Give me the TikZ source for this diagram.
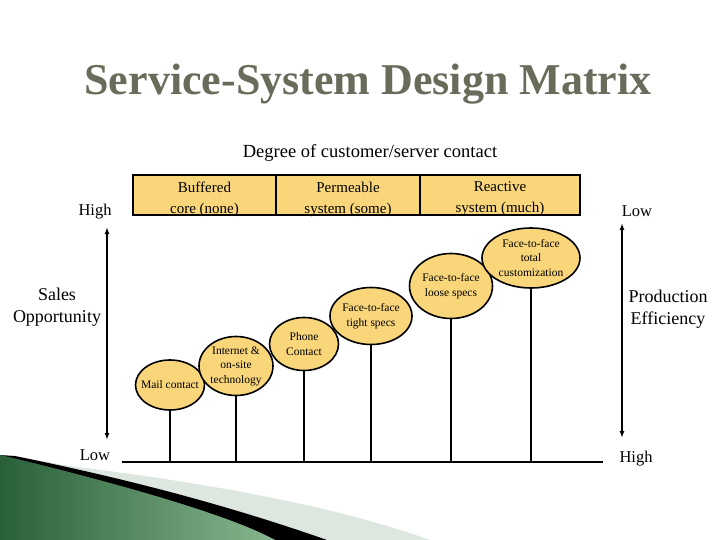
\documentclass[tikz,border=0pt]{standalone}
\usepackage{fontspec}
\setmainfont{Liberation Serif}
\usetikzlibrary{arrows.meta,shapes.geometric}
\definecolor{stagefill}{RGB}{250,214,123}
\definecolor{titlegray}{RGB}{107,107,91}
\definecolor{decodark}{RGB}{40,96,58}
\definecolor{decolight}{RGB}{135,182,142}
\definecolor{decogray}{RGB}{222,230,224}

\tikzset{
  hdrbox/.style={draw,line width=1.8pt,fill=stagefill,minimum height=40pt,inner sep=0pt},
  hdrtext/.style={align=center,inner sep=0pt,font=\fontsize{15}{21}\selectfont},
  stage/.style={ellipse,draw,line width=1.6pt,fill=stagefill,inner sep=0pt},
  stagetext/.style={align=center,inner sep=0pt,font=\fontsize{11.5}{14.5}\selectfont},
  stem/.style={line width=1.6pt},
  axislbl/.style={align=center,inner sep=0pt,font=\fontsize{16.5}{22}\selectfont},
  scalelbl/.style={align=center,inner sep=0pt,font=\fontsize{18}{22}\selectfont},
  dblarrow/.style={line width=1.5pt,{Latex[length=7pt,width=5pt]}-{Latex[length=7pt,width=5pt]}},
}

\begin{document}
\begin{tikzpicture}[x=1pt,y=-1pt]
  \useasboundingbox (0,0) rectangle (720,540);
  % slide decoration, bottom left
  \fill[decogray] (70,466) .. controls (200,482) and (333,505) .. (430,540)
    -- (327,540) .. controls (233,507) and (133,480) .. (15,456) -- cycle;
  \fill[black] (15,456) .. controls (133,480) and (233,507) .. (327,540)
    -- (275,540) .. controls (233,517) and (133,487) .. (0,455) -- cycle;
  \fill[left color=decodark,right color=decolight]
    (0,455) .. controls (133,487) and (233,517) .. (275,540) -- (0,540) -- cycle;

  % title and top caption
  \node[anchor=base,text=titlegray,font=\fontsize{44}{48}\selectfont\bfseries] (title)
    at (368,95) {Service-System Design Matrix};
  \node[anchor=base,font=\fontsize{18.5}{20}\selectfont] (degree)
    at (370,158) {Degree of customer/server contact};

  % header boxes
  \node[hdrbox,minimum width=143pt] (hbuf) at (204.5,195) {};
  \node[hdrbox,minimum width=144pt] (hperm) at (348,195) {};
  \node[hdrbox,minimum width=160pt] (hreact) at (500,195) {};
  \node[hdrtext] (tbuf) at (204.5,199) {Buffered\\core (none)};
  \node[hdrtext] (tperm) at (348,199) {Permeable\\system (some)};
  \node[hdrtext] (treact) at (500,199) {Reactive\\system (much)};

  % side scales
  \node[axislbl,anchor=base] (lhigh) at (95,215) {High};
  \node[axislbl,anchor=base] (llow) at (95,460) {Low};
  \node[axislbl,anchor=base] (rlow) at (637,217) {Low};
  \node[axislbl,anchor=base] (rhigh) at (636,462) {High};
  \node[scalelbl] (sales) at (57,307) {Sales\\Opportunity};
  \node[scalelbl] (prod) at (668,309) {Production\\Efficiency};
  \coordinate (ltop) at (107,227);
  \coordinate (lbot) at (107,440);
  \coordinate (rtop) at (622,223);
  \coordinate (rbot) at (622,438);
  \draw[dblarrow] (ltop) -- (lbot);
  \draw[dblarrow] (rtop) -- (rbot);

  % baseline
  \coordinate (bl) at (122,462);
  \coordinate (br) at (603,462);
  \draw[stem] (bl) -- (br);

  % contact stages
  \node[stage,minimum width=69pt,minimum height=50pt] (mail) at (170,385) {};
  \node[stage,minimum width=74pt,minimum height=59pt] (inet) at (236,366) {};
  \node[stage,minimum width=69pt,minimum height=53pt] (phone) at (304,344) {};
  \node[stage,minimum width=82pt,minimum height=57pt] (tight) at (371,316) {};
  \node[stage,minimum width=83pt,minimum height=65pt] (loose) at (451,286) {};
  \node[stage,minimum width=98pt,minimum height=60pt] (total) at (531,258) {};
  \node[stagetext] (tmail) at (mail) {Mail contact};
  \node[stagetext] (tinet) at (inet) {Internet \&\\on-site\\technology};
  \node[stagetext] (tphone) at (phone) {Phone\\Contact};
  \node[stagetext] (ttight) at (tight) {Face-to-face\\tight specs};
  \node[stagetext] (tloose) at (loose) {Face-to-face\\loose specs};
  \node[stagetext] (ttotal) at (total) {Face-to-face\\total\\customization};
  \foreach \s in {mail,inet,phone,tight,loose,total}
    \draw[stem] (\s.south) -- (\s.south |- bl);
\end{tikzpicture}
\end{document}
